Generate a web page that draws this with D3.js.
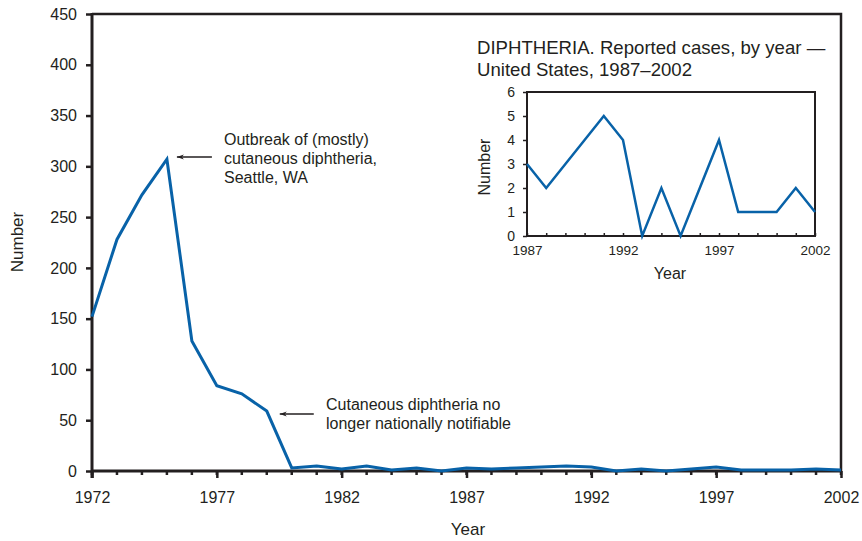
<!DOCTYPE html>
<html>
<head>
  <meta charset="utf-8">
  <title>Diphtheria</title>
  <style>
    body { margin: 0; background: #fff; }
    text { font-family: "Liberation Sans", Arial, sans-serif; fill: #231f20; }
  </style>
</head>
<body>
<svg width="862" height="541"></svg>
<script src="https://d3js.org/d3.v7.min.js"></script>
<script>

// main series 1972-2002
var years = d3.range(1972, 2003);
var cases = [152, 228, 272, 307, 128, 84, 76, 59, 3, 5, 2, 5, 1, 3, 0,
             3, 2, 3, 4, 5, 4, 0, 2, 0, 2, 4, 1, 1, 1, 2, 1];

// inset series 1987-2002
var insetYears = d3.range(1987, 2003);
var insetCases = [3, 2, 3, 4, 5, 4, 0, 2, 0, 2, 4, 1, 1, 1, 2, 1];

var xTickLabels = [1972, 1977, 1982, 1987, 1992, 1997, 2002];
var yTickLabels = [0, 50, 100, 150, 200, 250, 300, 350, 400, 450];
var insetXTicks = [1987, 1992, 1997, 2002];
var insetYTicks = [0, 1, 2, 3, 4, 5, 6];

var lineColor = "#0862a8";
var ink = "#231f20";

var svg = d3.select("svg");

// ---- main chart ----
var x = d3.scaleLinear().domain([1972, 2002]).range([92, 841]);
var y = d3.scaleLinear().domain([0, 450]).range([471, 14]);

// frame (top and right)
svg.append("path")
    .attr("d", "M" + x(1972) + "," + y(450) + "H" + x(2002) + "V" + y(0))
    .attr("fill", "none").attr("stroke", ink).attr("stroke-width", 2.5);

// minor year ticks
svg.append("g").selectAll("line")
    .data(years)
    .join("line")
    .attr("x1", d => x(d)).attr("x2", d => x(d))
    .attr("y1", y(0)).attr("y2", y(0) + 4)
    .attr("stroke", ink).attr("stroke-width", 2.5);

var xAxis = svg.append("g")
    .attr("transform", "translate(0," + y(0) + ")")
    .call(d3.axisBottom(x).tickValues(xTickLabels).tickSize(7).tickPadding(14).tickFormat(d3.format("d")));
xAxis.selectAll(".tick line").attr("stroke", ink).attr("stroke-width", 2.5);
xAxis.select(".domain").remove();
xAxis.selectAll("text").attr("font-size", 16).attr("fill", ink);

var yAxis = svg.append("g")
    .attr("transform", "translate(" + x(1972) + ",0)")
    .call(d3.axisLeft(y).tickValues(yTickLabels).tickSize(6).tickPadding(9));
yAxis.selectAll(".tick line").attr("stroke", ink).attr("stroke-width", 2.5);
yAxis.select(".domain").remove();
yAxis.selectAll("text").attr("font-size", 16).attr("fill", ink);

// axis lines
svg.append("line").attr("x1", x(1972)).attr("x2", x(1972))
    .attr("y1", y(450) - 1).attr("y2", y(0) + 7)
    .attr("stroke", ink).attr("stroke-width", 3);
svg.append("line").attr("x1", x(1972) - 1).attr("x2", x(2002) + 1)
    .attr("y1", y(0)).attr("y2", y(0))
    .attr("stroke", ink).attr("stroke-width", 3);

svg.append("path")
    .datum(years.map((d, i) => [d, cases[i]]))
    .attr("fill", "none")
    .attr("stroke", lineColor)
    .attr("stroke-width", 3)
    .attr("d", d3.line().x(d => x(d[0])).y(d => y(d[1])));

svg.append("text").attr("x", 468).attr("y", 535)
    .attr("text-anchor", "middle").attr("font-size", 17).text("Year");
svg.append("text")
    .attr("transform", "translate(23,242) rotate(-90)")
    .attr("text-anchor", "middle").attr("font-size", 17).text("Number");

// annotations
svg.append("defs").append("marker")
    .attr("id", "arr").attr("viewBox", "0 0 10 10")
    .attr("refX", 0).attr("refY", 5)
    .attr("markerWidth", 9).attr("markerHeight", 7)
    .attr("markerUnits", "userSpaceOnUse")
    .attr("orient", "auto")
    .append("path").attr("d", "M0,5L10,1.5L7,5L10,8.5Z").attr("fill", ink);

function note(x1, x2, yy, tx, ty, lines) {
  svg.append("line")
      .attr("x1", x1).attr("x2", x2).attr("y1", yy).attr("y2", yy)
      .attr("stroke", ink).attr("stroke-width", 1.3)
      .attr("marker-start", "url(#arr)");
  var t = svg.append("text").attr("font-size", 16);
  lines.forEach(function(l, i) {
    t.append("tspan").attr("x", tx).attr("y", ty + i * 19).text(l);
  });
}
note(x(1975) + 10, x(1975) + 45, 157, 224, 145,
     ["Outbreak of (mostly)", "cutaneous diphtheria,", "Seattle, WA"]);
note(x(1979) + 13, x(1979) + 47, 414, 326, 410,
     ["Cutaneous diphtheria no", "longer nationally notifiable"]);

// ---- inset ----
var ix = d3.scaleLinear().domain([1987, 2002]).range([527, 815]);
var iy = d3.scaleLinear().domain([0, 6]).range([236, 92]);

svg.append("rect")
    .attr("x", ix(1987)).attr("y", iy(6))
    .attr("width", ix(2002) - ix(1987)).attr("height", iy(0) - iy(6))
    .attr("fill", "none").attr("stroke", ink).attr("stroke-width", 2);

var ixAxis = svg.append("g")
    .attr("transform", "translate(0," + iy(0) + ")")
    .call(d3.axisTop(ix).tickValues(insetYears).tickSize(3).tickFormat(""));
ixAxis.select(".domain").remove();
ixAxis.selectAll(".tick line").attr("stroke", ink).attr("stroke-width", 1.5);

var ixLabels = svg.append("g")
    .attr("transform", "translate(0," + iy(0) + ")")
    .call(d3.axisBottom(ix).tickValues(insetXTicks).tickSize(0).tickPadding(9).tickFormat(d3.format("d")));
ixLabels.select(".domain").remove();
ixLabels.selectAll("text").attr("font-size", 13.5).attr("fill", ink);

var iyAxis = svg.append("g")
    .attr("transform", "translate(" + ix(1987) + ",0)")
    .call(d3.axisLeft(iy).tickValues(insetYTicks).tickSize(4).tickPadding(8).tickFormat(d3.format("d")));
iyAxis.select(".domain").remove();
iyAxis.selectAll(".tick line").attr("stroke", ink).attr("stroke-width", 1.5);
iyAxis.selectAll("text").attr("font-size", 14).attr("fill", ink);

svg.append("path")
    .datum(insetYears.map((d, i) => [d, insetCases[i]]))
    .attr("fill", "none")
    .attr("stroke", lineColor)
    .attr("stroke-width", 2.5)
    .attr("d", d3.line().x(d => ix(d[0])).y(d => iy(d[1])));

var title = svg.append("text").attr("font-size", 18.6);
title.append("tspan").attr("x", 477).attr("y", 54).text("DIPHTHERIA. Reported cases, by year \u2014");
title.append("tspan").attr("x", 477).attr("y", 76).text("United States, 1987\u20132002");

svg.append("text").attr("x", 670).attr("y", 279)
    .attr("text-anchor", "middle").attr("font-size", 16).text("Year");
svg.append("text")
    .attr("transform", "translate(490,167) rotate(-90)")
    .attr("text-anchor", "middle").attr("font-size", 16).text("Number");

</script>
</body>
</html>
